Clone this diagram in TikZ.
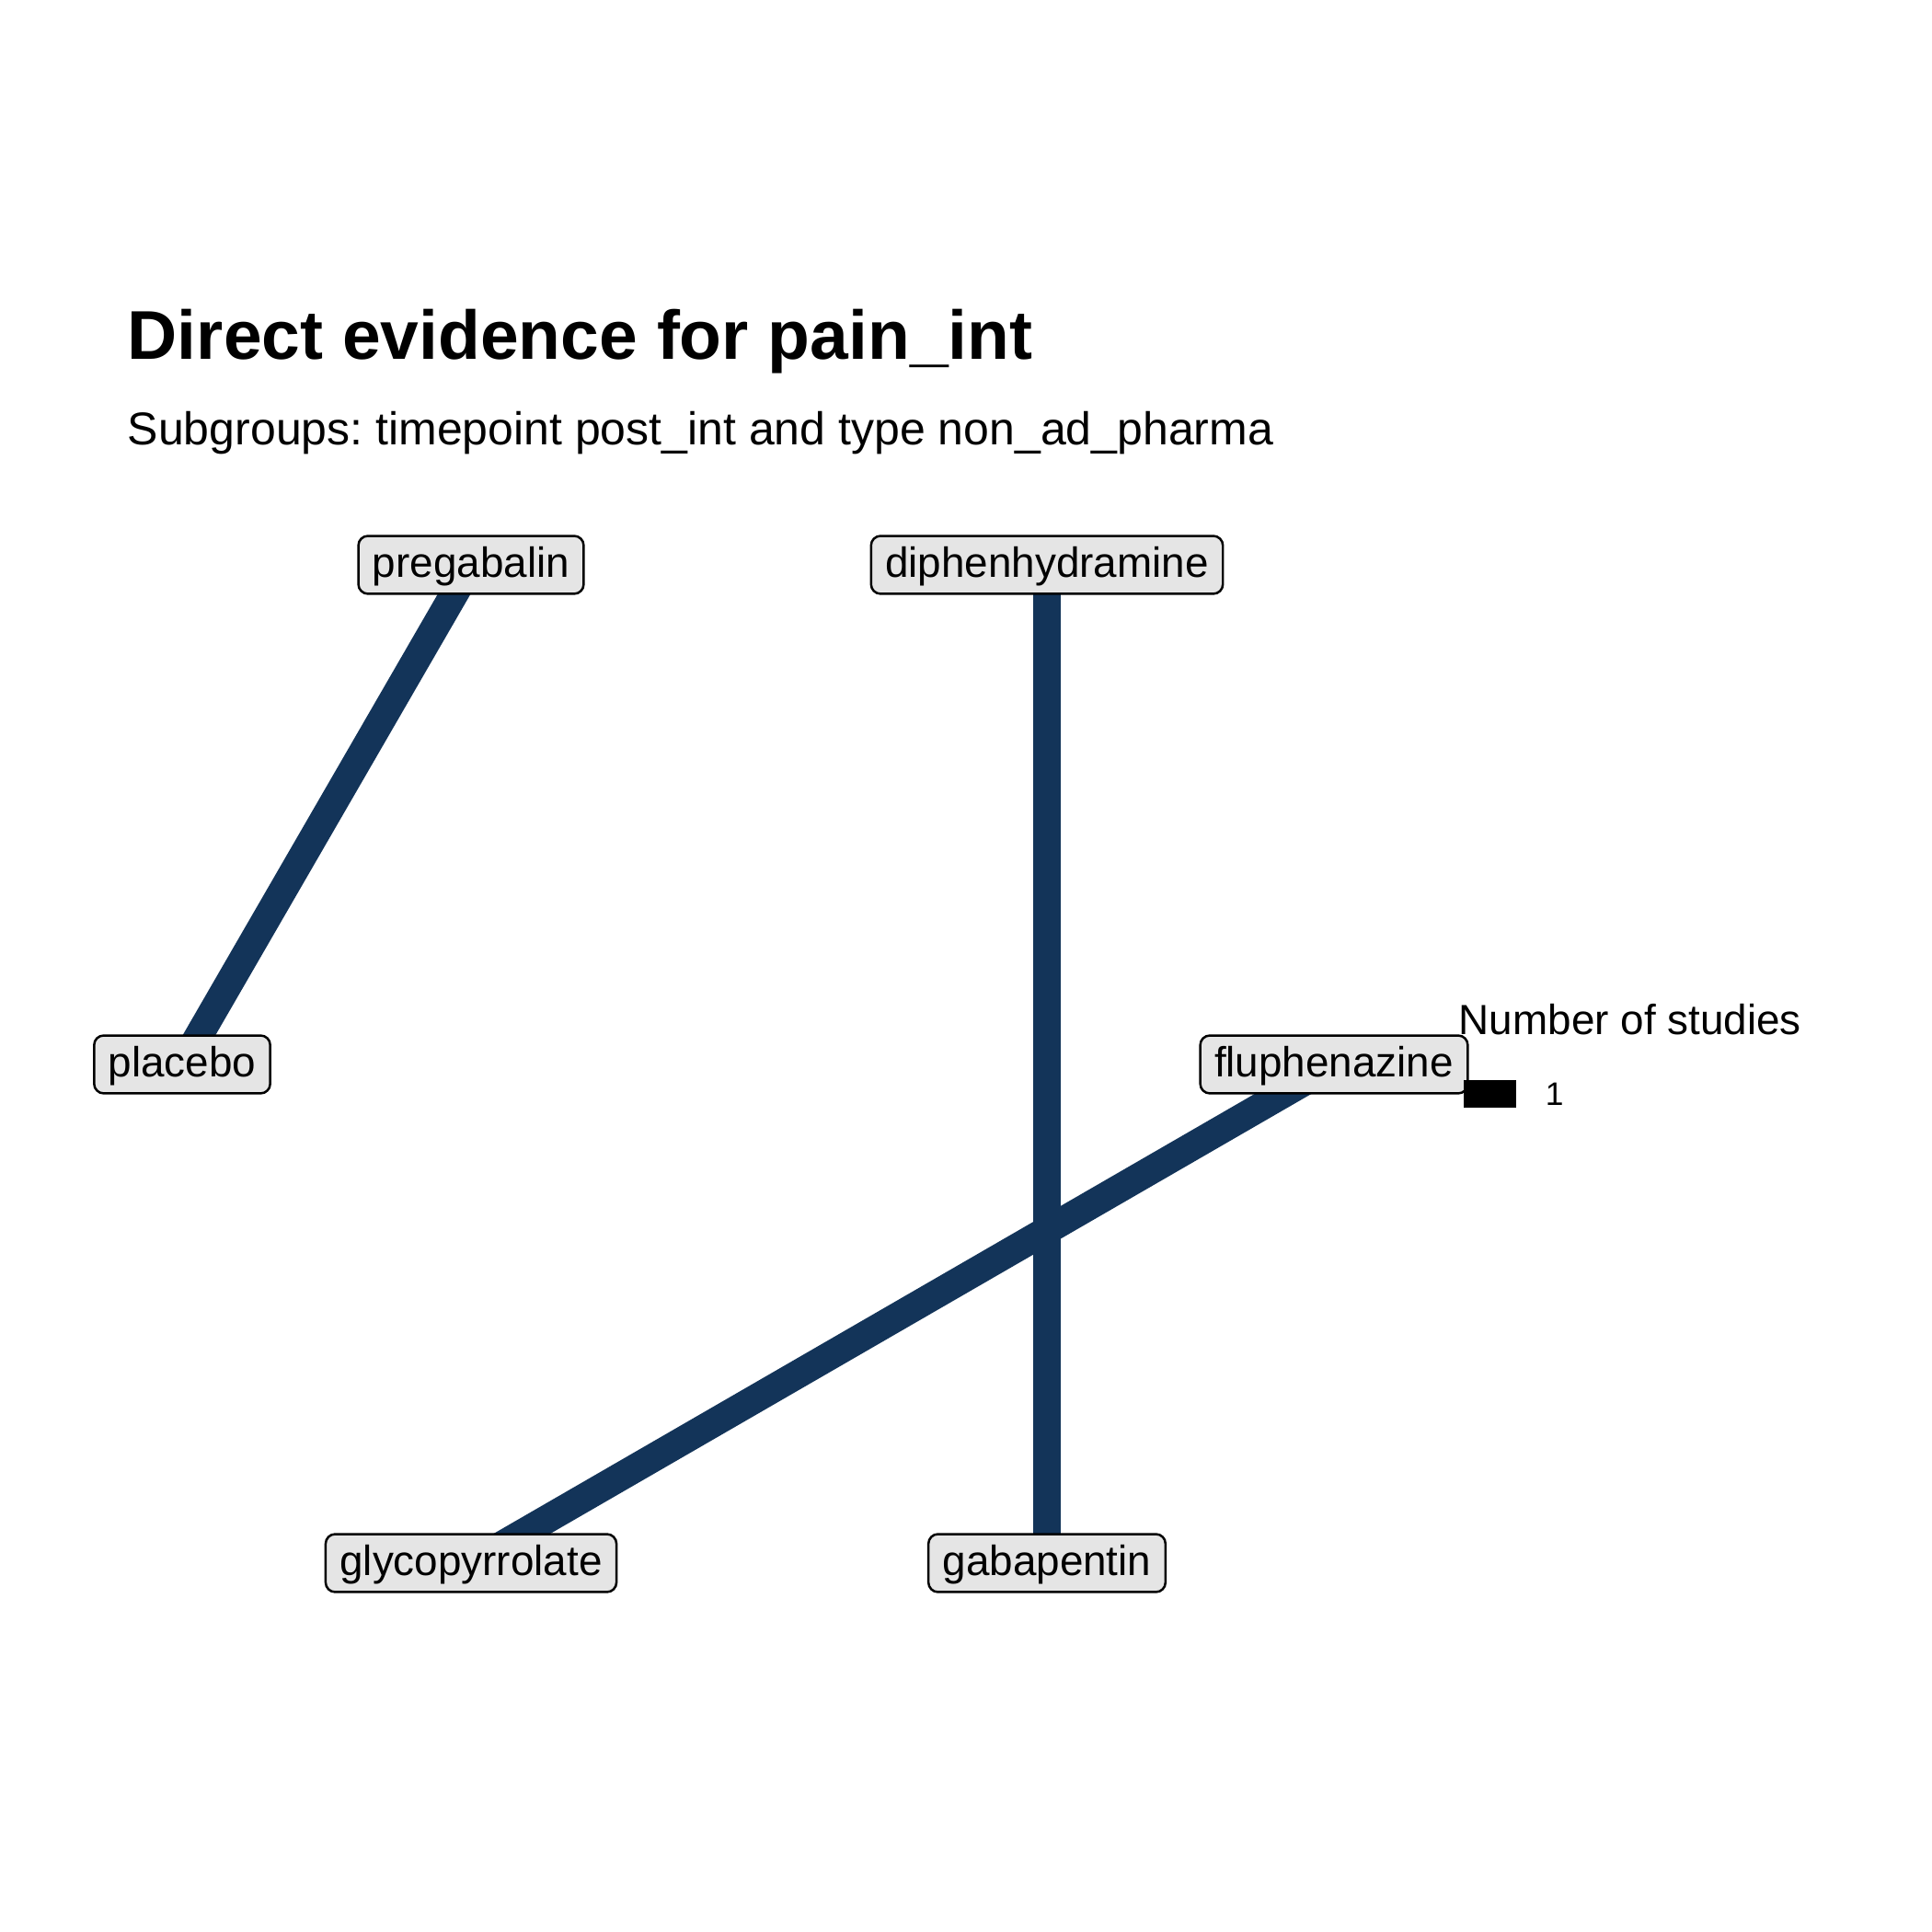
\documentclass[tikz,border=0pt]{standalone}
\usepackage{fontspec}
\setmainfont{Liberation Sans}
\usetikzlibrary{backgrounds}
\frenchspacing

\definecolor{edgeblue}{RGB}{19,52,89}
\definecolor{labelgrey}{RGB}{229,229,229}

\begin{document}
\begin{tikzpicture}[x=24bp, y=24bp,
    drug/.style={draw=black, fill=labelgrey, line width=0.6pt, rounded corners=2.5bp,
        inner xsep=3.7bp, inner ysep=2.2bp, text height=8.6bp, text depth=2.1bp,
        font=\fontsize{11bp}{13bp}\selectfont},
    evidence/.style={edgeblue, line width=7.4bp}]
    \useasboundingbox (0,0) rectangle (21,21);

    % title and subtitle
    \node[anchor=base west, inner sep=0pt, font=\fontsize{18bp}{21bp}\selectfont\bfseries]
        (title) at (1.38,17.09) {Direct evidence for pain\_int};
    \node[anchor=base west, inner sep=0pt, font=\fontsize{12bp}{14bp}\selectfont]
        (subtitle) at (1.38,16.16) {Subgroups: timepoint post\_int and type non\_ad\_pharma};

    % treatments
    \node[drug] (pregabalin) at (5.12,14.86) {pregabalin};
    \node[drug] (diphenhydramine) at (11.38,14.86) {diphenhydramine};
    \node[drug] (placebo) at (1.98,9.43) {placebo};
    \node[drug] (fluphenazine) at (14.50,9.43) {fluphenazine};
    \node[drug] (glycopyrrolate) at (5.12,4.01) {glycopyrrolate};
    \node[drug] (gabapentin) at (11.38,4.01) {gabapentin};

    % comparisons, under the labels
    \begin{pgfonlayer}{background}
        \draw[evidence] (placebo.center) -- (pregabalin.center);
        \draw[evidence] (diphenhydramine.center) -- (gabapentin.center);
        \draw[evidence] (fluphenazine.center) -- (glycopyrrolate.center);
    \end{pgfonlayer}

    % legend
    \node[anchor=base west, inner sep=0pt, font=\fontsize{11bp}{13bp}\selectfont]
        (legtitle) at (15.85,9.75) {Number of studies};
    \node[fill=black, inner sep=0pt, minimum width=13.7bp, minimum height=7.2bp]
        (legkey) at (16.195,9.11) {};
    \node[anchor=base west, inner sep=0pt, font=\fontsize{8.5bp}{10bp}\selectfont]
        (legone) at (16.79,8.98) {1};
\end{tikzpicture}
\end{document}
